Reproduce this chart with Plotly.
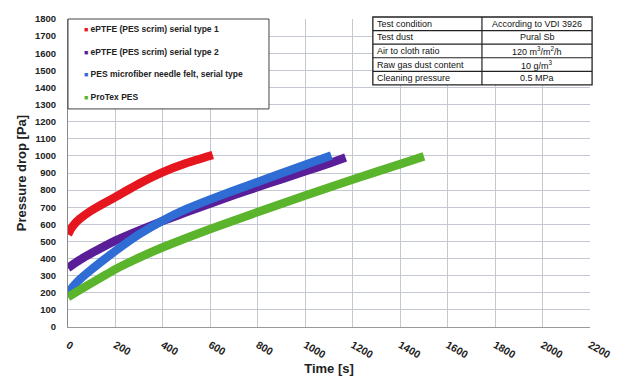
import plotly.graph_objects as go

# Pressure drop vs. filtration time for four filter media
series_names = [
    "ePTFE (PES scrim) serial type 1",
    "ePTFE (PES scrim) serial type 2",
    "PES microfiber needle felt, serial type",
    "ProTex PES",
]
series_colors = ["#e5161d", "#5a1f98", "#2f6cd4", "#5bb52c"]

t_type1 = [0, 10, 25, 50, 100, 150, 200, 300, 400, 500, 610]
p_type1 = [540, 568, 598, 632, 682, 722, 760, 838, 905, 958, 1005]

t_type2 = [0, 50, 100, 200, 300, 400, 500, 600, 700, 800, 900, 1000, 1100, 1170]
p_type2 = [345, 392, 432, 505, 565, 620, 672, 722, 771, 818, 864, 910, 956, 990]

t_felt = [0, 25, 50, 100, 150, 200, 300, 400, 500, 600, 700, 800, 900, 1000, 1110]
p_felt = [200, 242, 278, 337, 392, 445, 542, 623, 690, 746, 798, 848, 898, 948, 1003]

t_protex = [0, 50, 100, 200, 300, 400, 600, 800, 1000, 1200, 1400, 1500]
p_protex = [175, 217, 258, 338, 405, 466, 573, 672, 768, 862, 952, 997]

x_ticks = list(range(0, 2201, 200))
y_ticks = list(range(0, 1801, 100))

# Test conditions table
table_left = ["Test condition", "Test dust", "Air to cloth ratio",
              "Raw gas dust content", "Cleaning pressure"]
table_right = ["According to VDI 3926", "Pural Sb", "120 m<sup>3</sup>/m<sup>2</sup>/h",
               "10 g/m<sup>3</sup>", "0.5 MPa"]

times = [t_type1, t_type2, t_felt, t_protex]
pressures = [p_type1, p_type2, p_felt, p_protex]

fig = go.Figure()
for name, color, t, p in zip(series_names, series_colors, times, pressures):
    fig.add_trace(go.Scatter(
        x=t, y=p, mode="lines", name=name, showlegend=False,
        line=dict(color=color, width=8.5, shape="spline", smoothing=0.5),
    ))

font_main = "Liberation Sans, Arial, sans-serif"

shapes = []
annotations = []

# legend box
leg_x0, leg_x1, leg_y0, leg_y1 = 0.0, 0.385, 0.708, 1.0
shapes.append(dict(type="rect", xref="paper", yref="paper",
                   x0=leg_x0, x1=leg_x1, y0=leg_y0, y1=leg_y1,
                   line=dict(color="#444444", width=1), fillcolor="white", layer="above"))
leg_rows = [0.9675, 0.893, 0.821, 0.747]
for name, color, yy in zip(series_names, series_colors, leg_rows):
    annotations.append(dict(
        xref="paper", yref="paper", x=0.027, y=yy, xanchor="left", yanchor="middle",
        showarrow=False,
        text=f"<span style='color:{color};font-size:7px'>■</span> <b>{name}</b>",
        font=dict(family=font_main, size=8.5, color="#222222"),
    ))

# conditions table
tx0, tx1, txm = 0.584, 1.004, 0.793
ty_top, ty_bot = 1.0065, 0.786
n_rows = len(table_left)
row_h = (ty_top - ty_bot) / n_rows
shapes.append(dict(type="rect", xref="paper", yref="paper", x0=tx0, x1=tx1,
                   y0=ty_bot, y1=ty_top, line=dict(color="#222222", width=1.3),
                   fillcolor="white", layer="above"))
shapes.append(dict(type="line", xref="paper", yref="paper", x0=txm, x1=txm,
                   y0=ty_bot, y1=ty_top, line=dict(color="#222222", width=1.2), layer="above"))
for i in range(1, n_rows):
    yy = ty_top - i * row_h
    shapes.append(dict(type="line", xref="paper", yref="paper", x0=tx0, x1=tx1,
                       y0=yy, y1=yy, line=dict(color="#222222", width=1.2), layer="above"))
for i, (lt, rt) in enumerate(zip(table_left, table_right)):
    yc = ty_top - (i + 0.5) * row_h
    annotations.append(dict(xref="paper", yref="paper", x=tx0 + 0.005, y=yc,
                            xanchor="left", yanchor="middle", showarrow=False, text=lt,
                            font=dict(family=font_main, size=9, color="#111111")))
    annotations.append(dict(xref="paper", yref="paper", x=(txm + tx1) / 2, y=yc,
                            xanchor="center", yanchor="middle", showarrow=False, text=rt,
                            font=dict(family=font_main, size=9, color="#111111")))

fig.update_layout(
    width=617, height=376,
    margin=dict(l=68, r=27, t=19, b=49),
    paper_bgcolor="white", plot_bgcolor="white",
    font=dict(family=font_main, color="#222222"),
    shapes=shapes, annotations=annotations,
    showlegend=False,
)
fig.update_xaxes(
    range=[0, 2200], tickvals=x_ticks, ticktext=[str(v) for v in x_ticks],
    tickangle=30, tickfont=dict(size=10.5, family=font_main, weight="bold"),
    showgrid=True, gridcolor="#c3c8d2", gridwidth=1,
    showline=True, linecolor="#9a9a9a", linewidth=1, zeroline=False,
    ticks="", ticklabelstandoff=7, automargin=False,
    title=dict(text="<b>Time [s]</b>", font=dict(size=13, family=font_main), standoff=4),
)
fig.update_yaxes(
    range=[0, 1800], tickvals=y_ticks,
    tickfont=dict(size=9.5, family=font_main, weight="bold"),
    showgrid=True, gridcolor="#c3c8d2", gridwidth=1,
    showline=True, linecolor="#8a8a8a", linewidth=1, zeroline=False,
    ticks="", ticklabelstandoff=9, automargin=False,
    title=dict(text="<b>Pressure drop [Pa]</b>", font=dict(size=13, family=font_main), standoff=5),
)

fig.write_html("out.html")
